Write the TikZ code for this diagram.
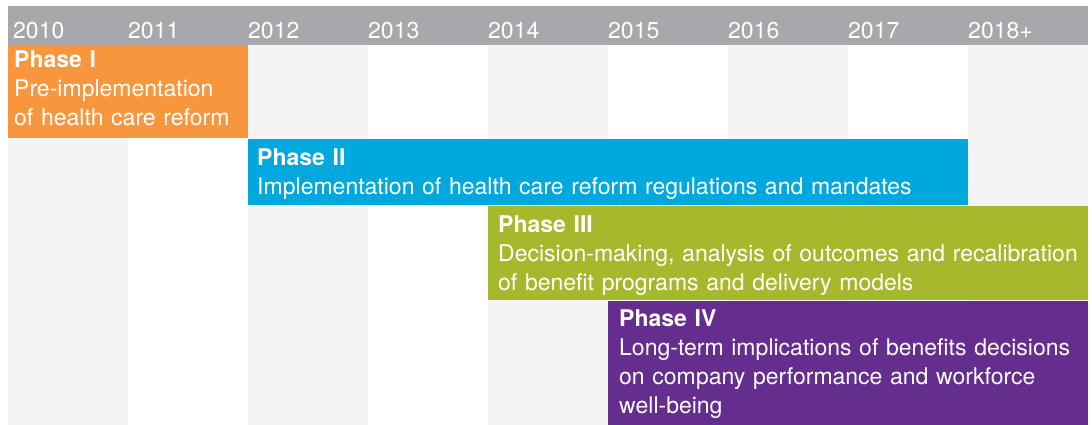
\documentclass[tikz,border=0pt]{standalone}
\usepackage{fontspec}
\setmainfont{TeX Gyre Heros}
\usepackage{tikz}
\usetikzlibrary{positioning}

\definecolor{headgray}{HTML}{A7A8AB}
\definecolor{stripe}{HTML}{F4F4F4}
\definecolor{phaseone}{HTML}{F7963D}
\definecolor{phasetwo}{HTML}{00A8DE}
\definecolor{phasethree}{HTML}{A8B82C}
\definecolor{phasefour}{HTML}{642D8E}

\tikzset{
	year/.style={anchor=base west, inner sep=0pt, text=white, font=\fontsize{23}{29}\selectfont},
	phasetext/.style={anchor=base west, inner sep=0pt, text=white, align=left, font=\fontsize{23}{29}\selectfont}
}

\begin{document}
\begin{tikzpicture}[x=1pt, y=-1pt]
			%%%%% START %%%%%
			\useasboundingbox (0, 0) rectangle (1092, 425);
			\fill[white] (0, 0) rectangle (1092, 425);
			
			% stripes for the years
			\foreach \k in {0, 2, 4, 6, 8}
				\fill[stripe] ({8 + 120*\k}, 45) rectangle ({128 + 120*\k}, 425);
			
			% header
			\fill[headgray] (8, 6) rectangle (1088, 45);
			\node[year] (y2010) at (13, 39) {2010};
			\foreach \yr [count=\k from 1] in {2011, 2012, 2013, 2014, 2015, 2016, 2017, 2018+}
				\node[year] (y\k) at ({8 + 120*\k}, 39) {\yr};
			
			% phases
			\fill[phaseone] (8, 45) rectangle (248, 138);
			\node[phasetext, text width=230] (p1) at (14, 68)
				{\textbf{Phase I}\\Pre-implementation\\of health care reform};
			
			\fill[phasetwo] (248, 139) rectangle (968, 205);
			\node[phasetext, text width=700] (p2) at (257, 165)
				{\textbf{Phase II}\\Implementation of health care reform regulations and mandates};
			
			\fill[phasethree] (488, 206) rectangle (1088, 300);
			\node[phasetext, text width=585] (p3) at (498, 232)
				{\textbf{Phase III}\\Decision-making, analysis of outcomes and recalibration\\of benefit programs and delivery models};
			
			\fill[phasefour] (608, 301) rectangle (1088, 425);
			\node[phasetext, text width=465] (p4) at (619, 326)
				{\textbf{Phase IV}\\Long-term implications of benefits decisions\\on company performance and workforce\\well-being};
			
			%%%%% END %%%%%
		\end{tikzpicture}
\end{document}
